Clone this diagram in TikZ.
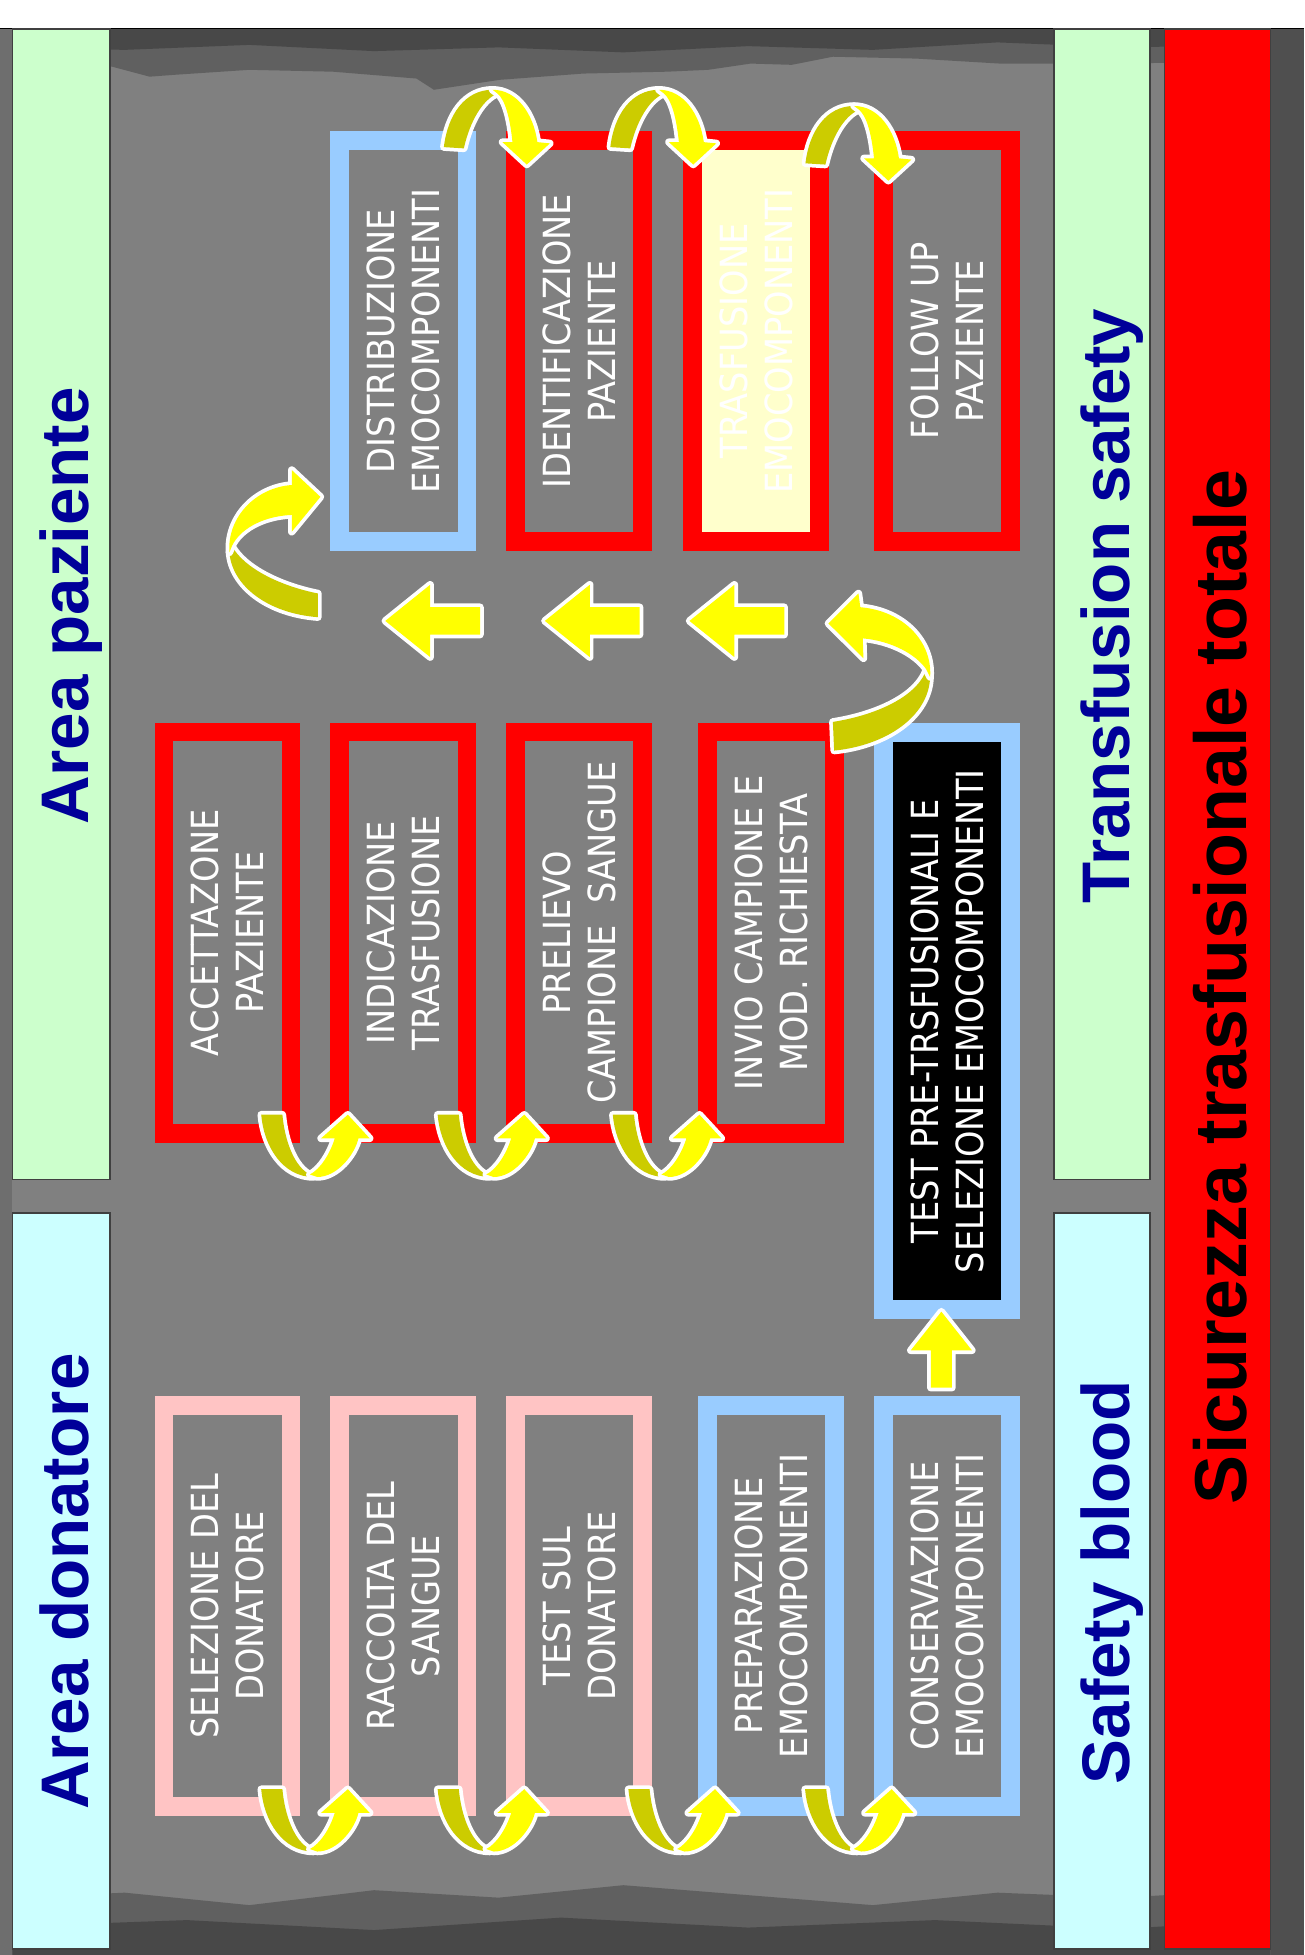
\documentclass[tikz,border=0pt]{standalone}
\usepackage{fontspec}
\newfontfamily\boxfont{DejaVu Sans Condensed}
\newfontfamily\titlefont{Liberation Sans}
\definecolor{boxred}{HTML}{FF0000}
\definecolor{boxblue}{HTML}{99CCFF}
\definecolor{boxpink}{HTML}{FFC4C4}
\definecolor{lyel}{HTML}{FFFFCC}
\definecolor{lgreen}{HTML}{CCFFCC}
\definecolor{lcyan}{HTML}{CCFFFF}
\definecolor{titleblue}{HTML}{000099}
\definecolor{yel}{HTML}{FFFF00}
\definecolor{oliv}{HTML}{CCCC00}
\definecolor{bgmid}{HTML}{808080}
\definecolor{bgleft}{HTML}{6E6E6E}
\definecolor{bgdark}{HTML}{4F4F4F}
\definecolor{bgtop}{HTML}{606060}
\definecolor{bgtopdark}{HTML}{484848}
\definecolor{bandedge}{HTML}{404040}

\newcommand\UArr[2]{%
  \begin{scope}[shift={(#1,#2)}]
    \fill[arrfill=oliv] (-39,-50) -- (-22,-50) .. controls (-20,-28) and (-12,-8) .. (0,-2) -- (3,0) .. controls (-22,0) and (-37,-25) .. (-39,-50) -- cycle;
    \fill[arrfill=yel] (0,-2) .. controls (8,-6) and (16,-18) .. (20,-31) -- (9,-31) -- (30.5,-50) -- (48,-31) -- (39,-31) .. controls (36,-18) and (22,0) .. (6,0) -- cycle;
  \end{scope}}
\newcommand\TArr[2]{%
  \begin{scope}[shift={(#1,#2)}]
    \fill[arrfill=oliv] (-39,46) .. controls (-36,20) and (-22,0) .. (0,0) -- (4,3) .. controls (-8,8) and (-18,25) .. (-23,47) -- cycle;
    \fill[arrfill=yel] (0,0) .. controls (20,0) and (33,20) .. (36,42) -- (46,43) -- (27.5,60) -- (8,42) -- (16,42) .. controls (14,22) and (10,8) .. (4,3) -- cycle;
  \end{scope}}
\newcommand\LArr[2]{%
  \begin{scope}[shift={(#1,#2)}]
    \fill[arrfill=yel] (0,0) -- (36,-29) -- (36,-11) -- (76,-11) -- (76,11) -- (36,11) -- (36,29) -- cycle;
  \end{scope}}

\begin{document}
\begin{tikzpicture}[x=1pt,y=-1pt,
  box/.style={rotate=90, minimum width=322pt, minimum height=102pt, line width=15pt,
     inner sep=0pt, text=white, font=\boxfont\fontsize{30}{36}\selectfont, align=center},
  band/.style={draw=bandedge, line width=1.5pt},
  title/.style={rotate=90, anchor=base, inner sep=0pt, text=titleblue,
     font=\titlefont\bfseries\fontsize{54}{60}\selectfont},
  arrfill/.style={fill=#1, preaction={draw=white, line width=6pt, line join=round}},
]
\useasboundingbox (0,0) rectangle (1046,1568);
% background
\fill[white] (0,0) rectangle (1046,1568);
\fill[bgmid] (0,22.7) rectangle (1046,1568);
\fill[bgleft] (0,22.7) rectangle (10,1568);
\fill[bgtop] (10,22.7) -- (1019,22.7) -- (1019,50) -- (842,51) -- (802,51) -- (735,47) -- (668,45.5) -- (635,52) -- (602,51) -- (568,56) -- (535,57.5) -- (468,59) -- (401,64) -- (348,72) -- (334,63) -- (267,57.5) -- (200,56) -- (140,60) -- (120,61.5) -- (90,53.5) -- (10,50) -- cycle;
\fill[bgtopdark] (10,22.7) -- (1019,22.7) -- (1019,36) -- (900,38) -- (800,34) -- (700,40) -- (600,37) -- (500,42) -- (400,38) -- (300,41) -- (200,36) -- (100,40) -- (10,38) -- cycle;
\fill[bgtop] (10,1568) -- (10,1522) -- (100,1518) -- (200,1528) -- (300,1516) -- (400,1522) -- (500,1512) -- (600,1520) -- (700,1528) -- (800,1518) -- (900,1522) -- (1019,1515) -- (1019,1568) -- cycle;
\fill[bgtopdark] (10,1568) -- (10,1545) -- (150,1540) -- (300,1548) -- (450,1538) -- (600,1546) -- (750,1540) -- (900,1547) -- (1019,1540) -- (1019,1568) -- cycle;
\fill[bgdark] (1019,22.7) rectangle (1046,1568);
\draw[black, line width=1.2pt] (0,22.7) -- (1046,22.7);

% bands
\draw[band, fill=lgreen] (10,23) rectangle (88,946);
\draw[band, fill=lcyan] (10,973) rectangle (88,1563);
\draw[band, fill=lgreen] (845,23) rectangle (922,946);
\draw[band, fill=lcyan] (845,973) rectangle (922,1563);
\draw[band, fill=boxred] (934,23) rectangle (1019,1563);

\node[title] (tpaz) at (71,486) {Area paziente};
\node[title] (tdon) at (71,1268.5) {Area donatore};
\node[title] (tts) at (905.5,486) {Transfusion safety};
\node[title] (tsb) at (905.5,1269) {Safety blood};
\node[title, text=black, font=\titlefont\bfseries\fontsize{59}{64}\selectfont] (tsic) at (999.5,791.5) {Sicurezza trasfusionale totale};

% top group
\node[box, draw=boxblue] (distr) at (323.5,273.5) {DISTRIBUZIONE\\EMOCOMPONENTI};
\node[box, draw=boxred] (ident) at (464.5,273.5) {IDENTIFICAZIONE\\PAZIENTE};
\node[box, draw=boxred, fill=lyel] (trasf) at (606.5,273.5) {TRASFUSIONE\\EMOCOMPONENTI};
\node[box, draw=boxred] (follow) at (759.5,273.5) {FOLLOW UP\\PAZIENTE};
% middle group
\node[box, draw=boxred] (accett) at (182.5,748) {ACCETTAZONE\\PAZIENTE};
\node[box, draw=boxred] (indic) at (323.5,748) {INDICAZIONE\\TRASFUSIONE};
\node[box, draw=boxred] (prel) at (464.5,748) {PRELIEVO\\CAMPIONE\ \ SANGUE};
\node[box, draw=boxred] (invio) at (618.5,748) {INVIO CAMPIONE E\\MOD. RICHIESTA};
\node[box, draw=boxblue, fill=black, minimum width=463pt] (test) at (759.5,819) {TEST PRE-TRSFUSIONALI E\\SELEZIONE EMOCOMPONENTI};
% bottom group
\node[box, draw=boxpink] (sel) at (182.5,1288) {SELEZIONE DEL\\DONATORE};
\node[box, draw=boxpink] (racc) at (323.5,1288) {RACCOLTA DEL\\SANGUE};
\node[box, draw=boxpink] (tsul) at (464.5,1288) {TEST SUL\\DONATORE};
\node[box, draw=boxblue] (prep) at (618.5,1288) {PREPARAZIONE\\EMOCOMPONENTI};
\node[box, draw=boxblue] (cons) at (759.5,1288) {CONSERVAZIONE\\EMOCOMPONENTI};

% U arrows (middle group)
\UArr{248.5}{944}
\UArr{390}{944}
\UArr{530.5}{944}
% U arrows (bottom group)
\UArr{248.5}{1485}
\UArr{390}{1485}
\UArr{543}{1485}
\UArr{684.7}{1485}
% top arcs
\TArr{395}{72}
\TArr{528.5}{72}
\TArr{685}{85}
% straight left arrows
\LArr{309}{498}
\LArr{437}{498}
\LArr{553}{498}
% up arrow
\begin{scope}[shift={(755,1052)}]
  \fill[arrfill=yel] (0,0) -- (24.5,31) -- (8.5,31) -- (8.5,61) -- (-8.5,61) -- (-8.5,31) -- (-24.5,31) -- cycle;
\end{scope}
% curved arrow into DISTRIBUZIONE
\fill[arrfill=oliv] (255,495) .. controls (215,492) and (186,470) .. (184,443) -- (186,438) .. controls (196,456) and (225,470) .. (255,476) -- cycle;
\fill[arrfill=yel] (184,443) .. controls (182,415) and (205,391) .. (234,389) -- (234,377) -- (257,398.5) -- (234,426.5) -- (234,413) .. controls (210,414) and (192,425) .. (186,438) -- cycle;
% curved arrow from INVIO
\fill[arrfill=oliv] (668,579) .. controls (700,574) and (735,560) .. (743,537) -- (746,543) .. controls (745,575) and (710,598) .. (669,602) -- cycle;
\fill[arrfill=yel] (746,543) .. controls (748,515) and (725,490) .. (690,487) -- (688.5,476) -- (664.4,500) -- (692.5,528) -- (692,512) .. controls (715,514) and (735,525) .. (743,537) -- cycle;
\end{tikzpicture}
\end{document}
